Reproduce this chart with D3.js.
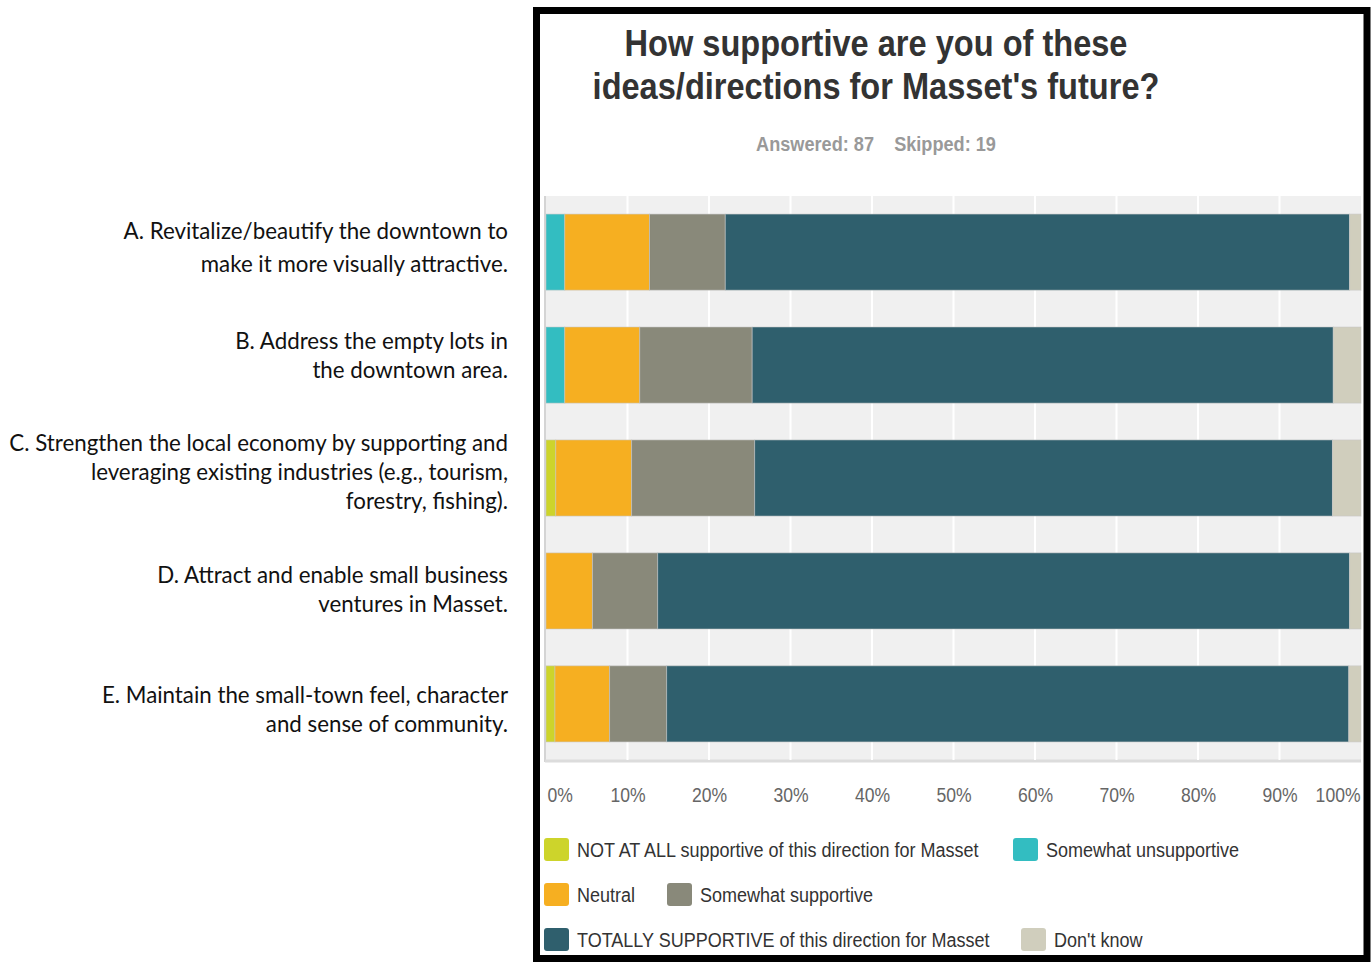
<!DOCTYPE html>
<html><head><meta charset="utf-8">
<script src="https://cdn.jsdelivr.net/npm/d3@7"></script>
<style>body{margin:0;background:#fff;} svg{display:block;}</style>
</head><body>
<svg id="c" width="1371" height="962"></svg>
<script>
const categories = [
  ["A. Revitalize/beautify the downtown to", "make it more visually attractive."],
  ["B. Address the empty lots in", "the downtown area."],
  ["C. Strengthen the local economy by supporting and", "leveraging existing industries (e.g., tourism,", "forestry, fishing)."],
  ["D. Attract and enable small business", "ventures in Masset."],
  ["E. Maintain the small-town feel, character", "and sense of community."]
];
const seriesNames = ["NOT AT ALL supportive of this direction for Masset", "Somewhat unsupportive", "Neutral", "Somewhat supportive", "TOTALLY SUPPORTIVE of this direction for Masset", "Don't know"];
const notAtAll    = [0,   0,   1.2, 0,   1.1];
const somewhatUn  = [2.3, 2.3, 0,   0,   0];
const neutral     = [10.4, 9.2, 9.3, 5.7, 6.7];
const somewhatSup = [9.3, 13.8, 15.1, 8.0, 7.0];
const totally     = [76.6, 71.3, 70.9, 84.9, 83.7];
const dontKnow    = [1.4, 3.4, 3.5, 1.4, 1.5];
const colors = ["#cdd42b", "#33bdc1", "#f6af21", "#89897a", "#2f5f6d", "#d0cebd"];
const tickValues = [0,10,20,30,40,50,60,70,80,90,100];
const title = ["How supportive are you of these", "ideas/directions for Masset's future?"];
const subtitle = "Answered: 87    Skipped: 19";

const series = [notAtAll, somewhatUn, neutral, somewhatSup, totally, dontKnow];
const svg = d3.select("#c");
const NARROW = "'Liberation Sans Narrow', 'Arial Narrow', 'Liberation Sans', Arial, sans-serif";

// emulate a condensed face by compressing each text horizontally
function condense(sel, f) {
  sel.each(function() {
    const w = this.getComputedTextLength();
    d3.select(this).attr("textLength", w * f).attr("lengthAdjust", "spacingAndGlyphs");
  });
}

// frame
svg.append("rect").attr("x", 536.5).attr("y", 10.5).attr("width", 830.5).attr("height", 948).attr("fill", "#fff").attr("stroke", "#000").attr("stroke-width", 7);

// title
svg.append("g").selectAll("text").data(title).join("text")
  .attr("x", 876).attr("y", (d,i) => 56 + i*43)
  .attr("text-anchor", "middle").attr("font-family", NARROW).attr("font-weight", "bold")
  .attr("font-size", 37).attr("fill", "#333").text(d => d)
  .call(condense, 0.88);
svg.append("text").attr("x", 876).attr("y", 151).attr("text-anchor", "middle")
  .attr("font-family", NARROW).attr("font-weight", "bold").attr("font-size", 19.5)
  .attr("fill", "#999").attr("xml:space", "preserve").style("white-space", "pre").text(subtitle)
  .call(condense, 0.93);

const x = d3.scaleLinear().domain([0, 100]).range([546, 1361]);
const idx = d3.range(categories.length);
const y = d3.scaleBand().domain(idx).range([196, 760]).paddingInner(0.326).paddingOuter(0.16);

// plot background
svg.append("rect").attr("x", 546).attr("y", 196).attr("width", 815).attr("height", 564).attr("fill", "#f0f0f0");
svg.append("line").attr("x1", 545).attr("x2", 545).attr("y1", 196).attr("y2", 762).attr("stroke", "#d4d4d4").attr("stroke-width", 2);
svg.append("line").attr("x1", 545).attr("x2", 1361).attr("y1", 761).attr("y2", 761).attr("stroke", "#dcdcdc").attr("stroke-width", 3);
// grid
svg.append("g").selectAll("line").data(tickValues.slice(1, -1)).join("line")
  .attr("x1", d => x(d)).attr("x2", d => x(d)).attr("y1", 196).attr("y2", 760)
  .attr("stroke", "#fff").attr("stroke-width", 2);

// stacked bars
const rows = idx.map(i => {
  let c = 0;
  return series.map((s, k) => { const v = s[i]; const o = {i, k, x0: c, x1: c + v}; c += v; return o; });
});
svg.append("g").selectAll("g").data(rows).join("g").selectAll("rect")
  .data(d => d.filter(o => o.x1 > o.x0)).join("rect")
  .attr("x", d => x(d.x0)).attr("width", d => x(d.x1) - x(d.x0))
  .attr("y", d => y(d.i)).attr("height", y.bandwidth())
  .attr("fill", d => colors[d.k]).attr("stroke", "rgba(200,200,200,0.55)").attr("stroke-width", 1);

// axis labels
const ax = svg.append("g").attr("transform", "translate(0,760)")
  .call(d3.axisBottom(x).tickValues(tickValues).tickFormat(d => d + "%").tickSize(0).tickPadding(28));
ax.select(".domain").remove();
ax.selectAll("text").attr("font-family", NARROW).attr("font-size", 19.5).attr("fill", "#666")
  .attr("text-anchor", d => d === 0 ? "start" : d === 100 ? "end" : "middle")
  .attr("dx", d => d === 0 ? 1 : d === 100 ? -1 : 0)
  .call(condense, 0.9);

// left labels
const lineGap = [33, 29, 29, 29, 29];
const firstCenter = [231, 341, 443, 575, 695];
const lg = svg.append("g");
categories.forEach((lines, i) => {
  lg.append("g").selectAll("text").data(lines).join("text")
    .attr("x", 508).attr("y", (d, j) => firstCenter[i] + j * lineGap[i])
    .attr("dy", "0.35em").attr("text-anchor", "end")
    .attr("font-family", "Lato, 'Open Sans', sans-serif").attr("font-size", 22.3).attr("fill", "#111")
    .text(d => d);
});

// legend
const legendPos = [[544, 850], [1013, 850], [544, 895], [667, 895], [544, 940], [1021, 940]];
const lgd = svg.append("g").selectAll("g").data(seriesNames).join("g")
  .attr("transform", (d, i) => `translate(${legendPos[i][0]},${legendPos[i][1]})`);
lgd.append("rect").attr("x", 0).attr("y", -12).attr("width", 25).attr("height", 23).attr("rx", 3)
  .attr("fill", (d, i) => colors[i]);
lgd.append("text").attr("x", 33).attr("y", 0).attr("dy", "0.35em")
  .attr("font-family", NARROW).attr("font-size", 20).attr("fill", "#333").text(d => d)
  .call(condense, 0.9);
</script>
</body></html>
